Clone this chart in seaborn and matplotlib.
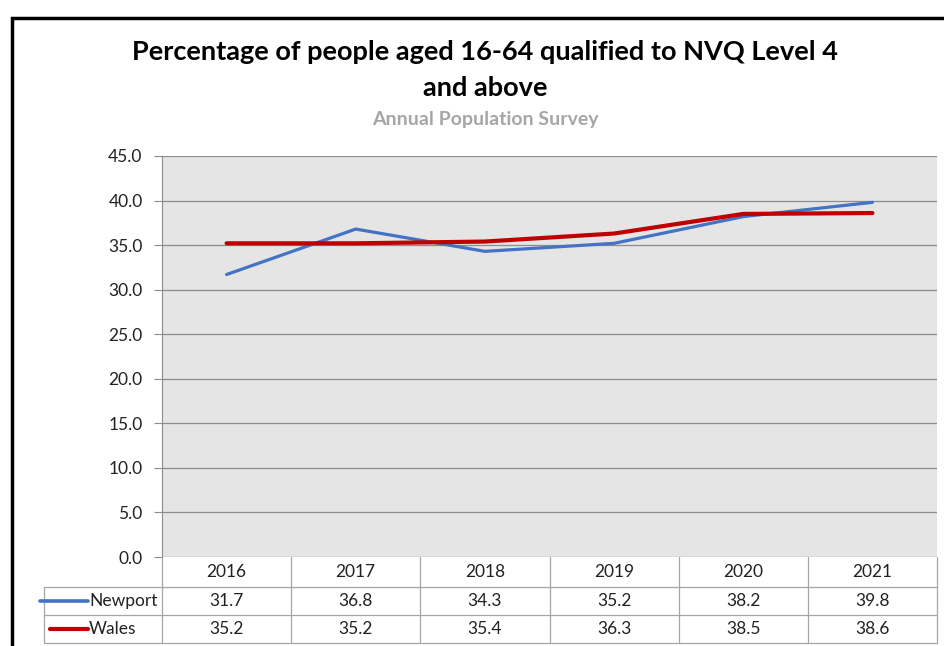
import pandas as pd
import matplotlib.pyplot as plt
import seaborn as sns
from matplotlib.transforms import blended_transform_factory
from matplotlib.lines import Line2D
from matplotlib.patches import Rectangle

# chart data
years = [2016, 2017, 2018, 2019, 2020, 2021]
newport = [31.7, 36.8, 34.3, 35.2, 38.2, 39.8]
wales = [35.2, 35.2, 35.4, 36.3, 38.5, 38.6]
series_names = ['Newport', 'Wales']
series_colors = ['#4472C4', '#C00000']
yticks = [0, 5, 10, 15, 20, 25, 30, 35, 40, 45]

df = pd.DataFrame({
    'Year': years * 2,
    'Value': newport + wales,
    'Area': ['Newport'] * len(years) + ['Wales'] * len(years),
})

sns.set_style('white')
plt.rcParams['font.family'] = ['Lato', 'DejaVu Sans']

W, H = 945, 646
fig = plt.figure(figsize=(W / 100, H / 100), dpi=100)

# plot area in pixel terms
left, right, top, bottom = 162, 937, 156, 557
ax = fig.add_axes([left / W, 1 - bottom / H, (right - left) / W, (bottom - top) / H])
ax.set_facecolor('#e5e5e5')

sns.lineplot(data=df, x='Year', y='Value', hue='Area', palette=series_colors,
             hue_order=series_names, ax=ax, legend=False, sort=False)
for line, lw in zip(ax.get_lines(), [2.3, 3.0]):
    line.set_linewidth(lw)
    line.set_solid_capstyle('round')

ax.set_xlim(years[0] - 0.5, years[-1] + 0.5)
ax.set_ylim(0, 45)
ax.set_yticks(yticks)
ax.set_yticklabels([f'{v:.1f}' for v in yticks], fontsize=12.5, color='#222222')
ax.set_xticks([])
ax.set_xlabel('')
ax.set_ylabel('')
ax.yaxis.grid(True, color='#8c8c8c', linewidth=0.9)
ax.set_axisbelow(True)
for s in ['top', 'right', 'bottom']:
    ax.spines[s].set_visible(False)
ax.spines['left'].set_color('#8c8c8c')
ax.tick_params(axis='y', length=6, color='#8c8c8c', left=True, pad=8)

# data table under the chart
tr = blended_transform_factory(ax.transData, fig.transFigure)
def fy(py):
    return 1 - py / H

px_per_year = (right - left) / len(years)
leg_left = years[0] - 0.5 - (left - 44) / px_per_year
row_edges = [557, 587, 615, 643]
grid_col = '#a6a6a6'

for y in row_edges[1:]:
    fig.add_artist(Line2D([leg_left, years[-1] + 0.5], [fy(y), fy(y)], transform=tr,
                          color=grid_col, lw=0.9))
for i in range(len(years) + 1):
    x = years[0] - 0.5 + i
    fig.add_artist(Line2D([x, x], [fy(row_edges[0]), fy(row_edges[-1])], transform=tr,
                          color=grid_col, lw=0.9))
fig.add_artist(Line2D([leg_left, leg_left], [fy(row_edges[1]), fy(row_edges[-1])],
                      transform=tr, color=grid_col, lw=0.9))

for yr in years:
    fig.text(yr, fy(572), str(yr), transform=tr, ha='center', va='center',
             fontsize=12.5, color='#222222')

rows = [newport, wales]
row_centers = [601, 629]
seg_starts = [40, 50]
seg_widths = [2.6, 3.0]
for name, vals, col, yc, xs, lw in zip(series_names, rows, series_colors, row_centers,
                                        seg_starts, seg_widths):
    for yr, v in zip(years, vals):
        fig.text(yr, fy(yc), f'{v:.1f}', transform=tr, ha='center', va='center',
                 fontsize=12.5, color='#222222')
    fig.add_artist(Line2D([xs / W, 88 / W], [fy(yc), fy(yc)], color=col, lw=lw))
    fig.text(89 / W, fy(yc), name, ha='left', va='center', fontsize=12.5, color='#222222')

# titles
fig.text(485 / W, fy(52), 'Percentage of people aged 16-64 qualified to NVQ Level 4',
         ha='center', va='center', fontsize=19.5, fontweight='bold', color='black')
fig.text(485 / W, fy(88), 'and above', ha='center', va='center', fontsize=19.5,
         fontweight='bold', color='black')
fig.text(485 / W, fy(120), 'Annual Population Survey', ha='center', va='center',
         fontsize=14, fontweight='bold', color='#a6a6a6')

# outer frame of the chart
fig.add_artist(Rectangle((11.5 / W, -0.1), 1.2, fy(17.5) + 0.1, transform=fig.transFigure,
                         fill=False, edgecolor='black', lw=2.5))

fig.savefig('out.png', dpi=100)
